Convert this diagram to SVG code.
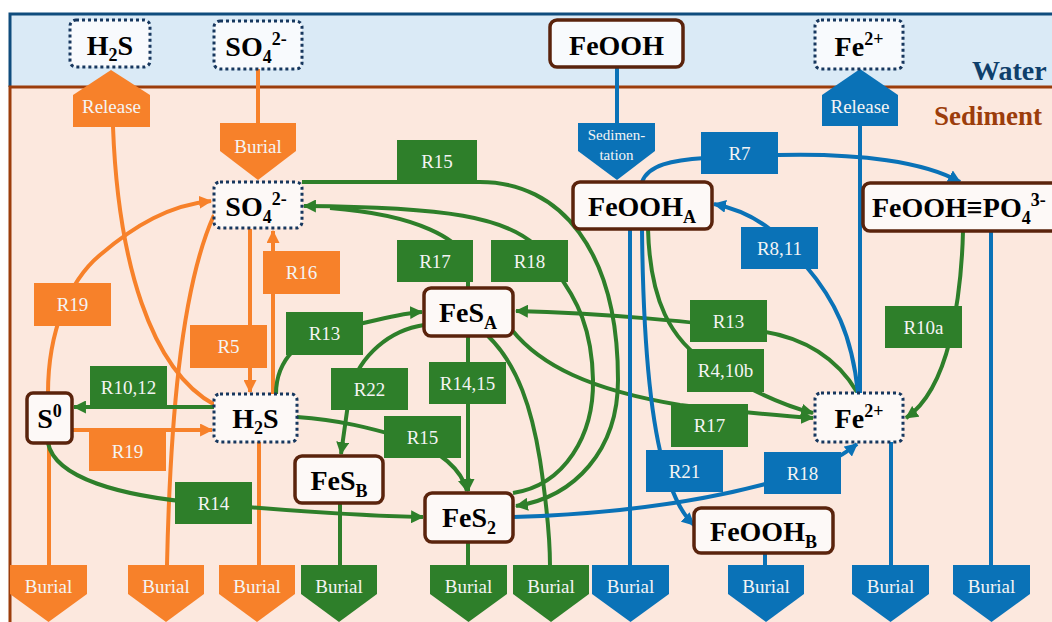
<svg xmlns="http://www.w3.org/2000/svg" width="1052" height="622" viewBox="0 0 1052 622">
<defs>
<style>
.lbl{font-family:"Liberation Serif","Times New Roman",Tinos,"DejaVu Serif",serif;font-size:19px;fill:#F4F4F4;text-anchor:middle}
.sm{font-size:15px}
.nt{font-family:"Liberation Serif","Times New Roman",Tinos,"DejaVu Serif",serif;font-size:28px;font-weight:bold;fill:#000;text-anchor:middle}
.zone{font-family:"Liberation Serif","Times New Roman",Tinos,"DejaVu Serif",serif;font-weight:bold}
.sub{font-size:18px}
.o{fill:#F7812A}
.g{fill:#2E7F2A}
.b{fill:#0A72B7}
.co{fill:none;stroke:#F7812A;stroke-width:4}
.cg{fill:none;stroke:#2E7F2A;stroke-width:4}
.cb{fill:none;stroke:#0A72B7;stroke-width:4}
.dot{fill:#F8FAFD;stroke:#17375E;stroke-width:3;stroke-dasharray:3 3}
.dots{fill:#FDF9F7;stroke:#17375E;stroke-width:3;stroke-dasharray:3 3}
.sol{fill:#FDF9F7;stroke:#5A230C;stroke-width:3.5}
.solw{fill:#F8FAFD;stroke:#5A230C;stroke-width:3.5}
</style>
<marker id="ao" viewBox="0 0 12 12" refX="11" refY="6" markerWidth="13" markerHeight="13" markerUnits="userSpaceOnUse" orient="auto"><path d="M0,0L12,6L0,12z" fill="#F7812A"/></marker>
<marker id="ag" viewBox="0 0 12 12" refX="11" refY="6" markerWidth="13" markerHeight="13" markerUnits="userSpaceOnUse" orient="auto"><path d="M0,0L12,6L0,12z" fill="#2E7F2A"/></marker>
<marker id="ab" viewBox="0 0 12 12" refX="11" refY="6" markerWidth="13" markerHeight="13" markerUnits="userSpaceOnUse" orient="auto"><path d="M0,0L12,6L0,12z" fill="#0A72B7"/></marker>
</defs>

<g id="background">
<rect x="0" y="0" width="1052" height="622" fill="#FFFFFF"/>
<rect x="10" y="14" width="1042" height="73" fill="#DAEAF6"/>
<rect x="10" y="87" width="1042" height="535" fill="#FCE8DE"/>
<path d="M10,87 V14 H1052" fill="none" stroke="#0F4C7D" stroke-width="3"/>
<path d="M10,622 V87 H1052" fill="none" stroke="#9C3D0B" stroke-width="3"/>
<text class="zone" x="972" y="80" font-size="28" fill="#0F3F6B">Water</text>
<text class="zone" x="934" y="125" font-size="27" fill="#9C3D0B">Sediment</text>
</g>

<g id="connectors">
<!-- orange -->
<path class="co" d="M113,127 C118,260 150,370 215,405"/>
<path class="co" d="M258,67 V124"/>
<path class="co" d="M48,393 C48,330 70,280 100,255 C135,225 170,205 211,201" marker-end="url(#ao)"/>
<path class="co" d="M167,565 C170,430 180,290 214,215"/>
<path class="co" d="M250,229 V392" marker-end="url(#ao)"/>
<path class="co" d="M273,394 V231" marker-end="url(#ao)"/>
<path class="co" d="M72,430 H212" marker-end="url(#ao)"/>
<path class="co" d="M49,443 V566"/>
<path class="co" d="M259,442 V566"/>
<!-- green -->
<path class="cg" d="M302,182 H480 C560,182 618,250 618,380 C618,450 575,497 516,506" marker-end="url(#ag)"/>
<path class="cg" d="M513,493 C565,485 594,435 593,380 C592,330 578,300 555,270"/>
<path class="cg" d="M535,245 C505,218 450,207 304,206" marker-end="url(#ag)"/>
<path class="cg" d="M468,288 L468,262 C460,240 420,215 330,208"/>
<path class="cg" d="M276,394 C276,360 300,335 340,328 C380,320 400,313 422,312" marker-end="url(#ag)"/>
<path class="cg" d="M214,407 H74" marker-end="url(#ag)"/>
<path class="cg" d="M48,443 C55,478 120,496 200,503 C280,510 360,516 423,517" marker-end="url(#ag)"/>
<path class="cg" d="M297,417 C340,420 370,428 405,438 C440,450 462,470 467,491" marker-end="url(#ag)"/>
<path class="cg" d="M468,336 V491" marker-end="url(#ag)"/>
<path class="cg" d="M424,325 C390,330 360,355 350,390 L341,454" marker-end="url(#ag)"/>
<path class="cg" d="M488,336 C518,365 532,410 540,460 C546,500 550,540 550,566"/>
<path class="cg" d="M512,330 C540,365 590,390 680,405 C740,412 780,416 813,418" marker-end="url(#ag)"/>
<path class="cg" d="M857,392 C835,355 800,337 760,331 C700,322 600,313 516,311" marker-end="url(#ag)"/>
<path class="cg" d="M648,229 C650,300 670,340 710,365 C740,385 780,405 813,413" marker-end="url(#ag)"/>
<path class="cg" d="M963,231 C962,275 958,305 950,340 C940,380 925,405 906,418" marker-end="url(#ag)"/>
<path class="cg" d="M340,503 V566"/>
<path class="cg" d="M468,542 V566"/>
<!-- blue -->
<path class="cb" d="M617,67 V124"/>
<path class="cb" d="M860,126 V393"/>
<path class="cb" d="M642,182 C648,165 672,160 705,158 L778,155 C860,153 925,162 960,182" marker-end="url(#ab)"/>
<path class="cb" d="M858,393 C852,335 835,300 805,265 C785,240 760,213 714,204" marker-end="url(#ab)"/>
<path class="cb" d="M630,229 V566"/>
<path class="cb" d="M642,229 C643,330 650,420 665,470 C675,500 683,515 694,525" marker-end="url(#ab)"/>
<path class="cb" d="M513,517 C620,514 710,500 780,480 C815,470 840,458 857,444" marker-end="url(#ab)"/>
<path class="cb" d="M891,442 V566"/>
<path class="cb" d="M991,231 V566"/>
<path class="cb" d="M765,553 V566"/>
</g>

<g id="labels">
<g id="lbl-R19a"><rect class="o" x="34" y="283" width="77" height="43"/><text class="lbl" x="72.5" y="311">R19</text></g>
<g id="lbl-R5"><rect class="o" x="190" y="325" width="77" height="43"/><text class="lbl" x="228.5" y="353">R5</text></g>
<g id="lbl-R16"><rect class="o" x="263" y="251" width="77" height="43"/><text class="lbl" x="301.5" y="279">R16</text></g>
<g id="lbl-R19b"><rect class="o" x="89" y="431" width="77" height="40"/><text class="lbl" x="127.5" y="458">R19</text></g>
<g id="lbl-R15a"><rect class="g" x="397" y="140" width="80" height="43"/><text class="lbl" x="437" y="168">R15</text></g>
<g id="lbl-R17a"><rect class="g" x="397" y="240" width="76" height="42"/><text class="lbl" x="435" y="268">R17</text></g>
<g id="lbl-R18a"><rect class="g" x="491" y="240" width="77" height="42"/><text class="lbl" x="529.5" y="268">R18</text></g>
<g id="lbl-R13a"><rect class="g" x="286" y="312" width="77" height="43"/><text class="lbl" x="324.5" y="340">R13</text></g>
<g id="lbl-R10-12"><rect class="g" x="90" y="366" width="77" height="43"/><text class="lbl" x="128.5" y="394">R10,12</text></g>
<g id="lbl-R22"><rect class="g" x="331" y="368" width="77" height="42"/><text class="lbl" x="369.5" y="396">R22</text></g>
<g id="lbl-R14-15"><rect class="g" x="429" y="362" width="77" height="42"/><text class="lbl" x="467.5" y="390">R14,15</text></g>
<g id="lbl-R15b"><rect class="g" x="384" y="416" width="77" height="42"/><text class="lbl" x="422.5" y="444">R15</text></g>
<g id="lbl-R14"><rect class="g" x="175" y="482" width="77" height="42"/><text class="lbl" x="213.5" y="510">R14</text></g>
<g id="lbl-R13b"><rect class="g" x="690" y="300" width="77" height="42"/><text class="lbl" x="728.5" y="328">R13</text></g>
<g id="lbl-R4-10b"><rect class="g" x="687" y="349" width="77" height="43"/><text class="lbl" x="725.5" y="377">R4,10b</text></g>
<g id="lbl-R17b"><rect class="g" x="671" y="404" width="77" height="43"/><text class="lbl" x="709.5" y="432">R17</text></g>
<g id="lbl-R10a"><rect class="g" x="885" y="306" width="77" height="42"/><text class="lbl" x="923.5" y="334">R10a</text></g>
<g id="lbl-R7"><rect class="b" x="701" y="132" width="77" height="42"/><text class="lbl" x="739.5" y="160">R7</text></g>
<g id="lbl-R8-11"><rect class="b" x="741" y="227" width="77" height="42"/><text class="lbl" x="779.5" y="255">R8,11</text></g>
<g id="lbl-R21"><rect class="b" x="646" y="450" width="77" height="42"/><text class="lbl" x="684.5" y="478">R21</text></g>
<g id="lbl-R18b"><rect class="b" x="764" y="452" width="77" height="42"/><text class="lbl" x="802.5" y="480">R18</text></g>
</g>

<g id="flux-arrows">
<g id="release-h2s"><polygon class="o" points="111,70 150,95 150,127 73,127 73,95"/><text class="lbl" x="111.5" y="113" font-size="18">Release</text></g>
<g id="release-fe"><polygon class="b" points="860,69 898,95 898,126 822,126 822,95"/><text class="lbl" x="860" y="113" font-size="18">Release</text></g>
<g id="burial-so4w"><polygon class="o" points="220,123 296,123 296,151 258,180 220,151"/><text class="lbl" x="258" y="153" font-size="18">Burial</text></g>
<g id="sedimentation"><polygon class="b" points="578,123 655,123 655,151 617,180 578,151"/><text class="lbl sm" x="616.5" y="140">Sedimen-</text><text class="lbl sm" x="616.5" y="160">tation</text></g>
<g id="burial-s0"><polygon class="o" points="10,565 87,565 87,594 48.5,622 10,594"/><text class="lbl" x="48.5" y="593" font-size="18">Burial</text></g>
<g id="burial-o2"><polygon class="o" points="128,565 204,565 204,594 166,622 128,594"/><text class="lbl" x="166" y="593" font-size="18">Burial</text></g>
<g id="burial-h2s"><polygon class="o" points="219,565 295,565 295,594 257,622 219,594"/><text class="lbl" x="257" y="593" font-size="18">Burial</text></g>
<g id="burial-fesb"><polygon class="g" points="301,565 377,565 377,594 339,622 301,594"/><text class="lbl" x="339" y="593" font-size="18">Burial</text></g>
<g id="burial-fes2"><polygon class="g" points="430,565 507,565 507,594 468.5,622 430,594"/><text class="lbl" x="468.5" y="593" font-size="18">Burial</text></g>
<g id="burial-fesa"><polygon class="g" points="513,565 589,565 589,594 551,622 513,594"/><text class="lbl" x="551" y="593" font-size="18">Burial</text></g>
<g id="burial-feooha"><polygon class="b" points="592,565 669,565 669,594 630.5,622 592,594"/><text class="lbl" x="630.5" y="593" font-size="18">Burial</text></g>
<g id="burial-feoohb"><polygon class="b" points="728,565 804,565 804,594 766,622 728,594"/><text class="lbl" x="766" y="593" font-size="18">Burial</text></g>
<g id="burial-fe2"><polygon class="b" points="852,565 929,565 929,594 890.5,622 852,594"/><text class="lbl" x="890.5" y="593" font-size="18">Burial</text></g>
<g id="burial-po4"><polygon class="b" points="953,565 1030,565 1030,594 991.5,622 953,594"/><text class="lbl" x="991.5" y="593" font-size="18">Burial</text></g>
</g>

<g id="node-h2s-water"><rect class="dot" x="70" y="20" width="80" height="47" rx="6"/><text class="nt" x="110" y="55">H<tspan class="sub" dy="6">2</tspan><tspan dy="-6">S</tspan></text></g>
<g id="node-so4-water"><rect class="dot" x="214" y="21" width="88" height="48" rx="6"/><text class="nt" x="256" y="56">SO<tspan class="sub" dy="7">4</tspan><tspan class="sub" dy="-18">2-</tspan></text></g>
<g id="node-feooh-water"><rect class="solw" x="550" y="20" width="133" height="47" rx="7"/><text class="nt" x="616.5" y="55">FeOOH</text></g>
<g id="node-fe2-water"><rect class="dot" x="815" y="20" width="88" height="49" rx="6"/><text class="nt" x="859" y="56">Fe<tspan class="sub" dy="-11">2+</tspan></text></g>

<g id="node-so4"><rect class="dots" x="214" y="182" width="88" height="46" rx="6"/><text class="nt" x="256" y="216">SO<tspan class="sub" dy="7">4</tspan><tspan class="sub" dy="-18">2-</tspan></text></g>
<g id="node-feooha"><rect class="sol" x="573" y="182" width="139" height="47" rx="7"/><text class="nt" x="642" y="216">FeOOH<tspan class="sub" dy="7">A</tspan></text></g>
<g id="node-feoohpo4"><rect class="sol" x="863" y="183" width="200" height="48" rx="7"/><text class="nt" x="872" y="217" style="text-anchor:start">FeOOH≡PO<tspan class="sub" dy="7">4</tspan><tspan class="sub" dy="-18">3-</tspan></text></g>
<g id="node-fesa"><rect class="sol" x="424" y="288" width="89" height="48" rx="7"/><text class="nt" x="468" y="322">FeS<tspan class="sub" dy="7">A</tspan></text></g>
<g id="node-s0"><rect class="sol" x="27" y="393" width="45" height="50" rx="6"/><text class="nt" x="49.5" y="428">S<tspan class="sub" dy="-11">0</tspan></text></g>
<g id="node-h2s"><rect class="dots" x="214" y="394" width="83" height="48" rx="6"/><text class="nt" x="255.5" y="428">H<tspan class="sub" dy="6">2</tspan><tspan dy="-6">S</tspan></text></g>
<g id="node-fe2"><rect class="dots" x="815" y="393" width="88" height="49" rx="6"/><text class="nt" x="859" y="428">Fe<tspan class="sub" dy="-11">2+</tspan></text></g>
<g id="node-fesb"><rect class="sol" x="295" y="456" width="88" height="47" rx="7"/><text class="nt" x="339" y="490">FeS<tspan class="sub" dy="7">B</tspan></text></g>
<g id="node-fes2"><rect class="sol" x="425" y="493" width="88" height="49" rx="7"/><text class="nt" x="469" y="527">FeS<tspan class="sub" dy="7">2</tspan></text></g>
<g id="node-feoohb"><rect class="sol" x="694" y="508" width="139" height="45" rx="7"/><text class="nt" x="763.5" y="541">FeOOH<tspan class="sub" dy="7">B</tspan></text></g>
</svg>
